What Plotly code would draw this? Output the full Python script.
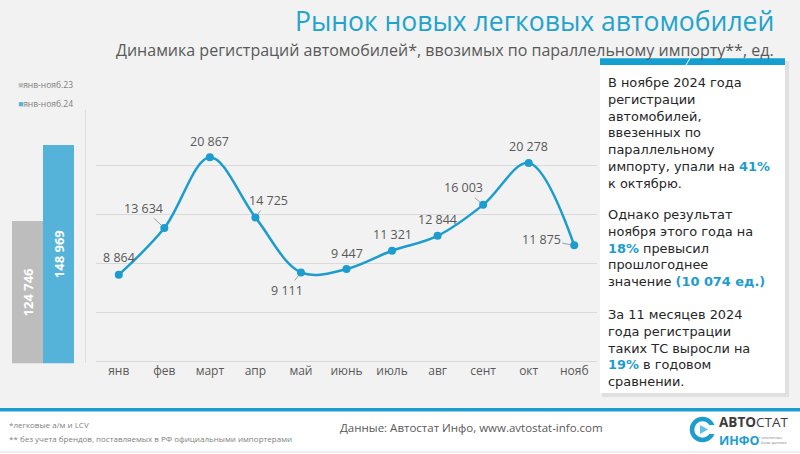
import plotly.graph_objects as go

W, H = 800, 454

months = ['янв', 'фев', 'март', 'апр', 'май', 'июнь', 'июль', 'авг', 'сент', 'окт', 'нояб']
registrations = [8864, 13634, 20867, 14725, 9111, 9447, 11321, 12844, 16003, 20278, 11875]

ytd_periods = ['янв-нояб.23', 'янв-нояб.24']
ytd_values = [124746, 148969]
ytd_axis_min = 79600

BLUE = '#1c9ccf'
BAR_BLUE = '#55b3da'
BAR_GRAY = '#bdbdbd'
TXT = '#595959'
FONT = 'Open Sans'

# label placement per month: (dx px, dy px, leader line)
label_pos = [(0, -17, False), (-21, -20, True), (0, -16, False), (13, -17, True),
             (-14, 18, True), (0, -16, False), (0, -16, False), (0, -16, False),
             (-20, -17, True), (0, -16, False), (-33, -6, True)]


def fx(px):
    return px / W


def fy(py):
    return 1 - py / H


def fmt(v):
    return f'{v:,}'.replace(',', ' ')


fig = go.Figure()

fig.add_trace(go.Scatter(
    x=months, y=registrations, mode='lines+markers',
    line=dict(color=BLUE, width=2.5, shape='spline', smoothing=1.0),
    marker=dict(color=BLUE, size=8),
    hoverinfo='skip', showlegend=False))

fig.add_trace(go.Bar(
    x=ytd_periods, y=[v - ytd_axis_min for v in ytd_values], base=ytd_axis_min,
    xaxis='x2', yaxis='y2', width=1,
    marker=dict(color=[BAR_GRAY, BAR_BLUE], line=dict(width=0)),
    text=[fmt(v) for v in ytd_values], textangle=-90,
    textposition='inside', insidetextanchor='middle',
    textfont=dict(color='white', size=13, family=FONT, weight='bold'),
    hoverinfo='skip', showlegend=False))

annotations = []
for m, v, (dx, dy, leader) in zip(months, registrations, label_pos):
    if leader:
        annotations.append(dict(x=m, y=v, xref='x', yref='y', text=fmt(v),
                                showarrow=True, arrowhead=0, arrowwidth=0.8,
                                arrowcolor='#8c8c8c', ax=dx, ay=dy, standoff=4,
                                font=dict(size=12.5, color=TXT, family=FONT)))
    else:
        annotations.append(dict(x=m, y=v, xref='x', yref='y', text=fmt(v),
                                showarrow=False, xshift=dx, yshift=-dy,
                                font=dict(size=12.5, color=TXT, family=FONT)))


def note(x, y, text, size, color, anchor='left', family=FONT):
    annotations.append(dict(x=fx(x), y=fy(y), xref='paper', yref='paper',
                            xanchor=anchor, yanchor='middle', align='left',
                            showarrow=False, borderpad=0,
                            text=text, font=dict(size=size, color=color, family=family)))


# titles
note(775, 21, 'Рынок новых легковых автомобилей', 26.5, '#22a3cc', 'right')
note(775, 50, 'Динамика регистраций автомобилей*, ввозимых по параллельному импорту**, ед.',
     16, '#595959', 'right')

# small legend for bars
note(17, 84, f'<span style="color:{BAR_GRAY}">■</span>{ytd_periods[0]}', 8.5, '#7f7f7f')
note(17, 103, f'<span style="color:{BAR_BLUE}">■</span>{ytd_periods[1]}', 8.5, '#7f7f7f')

# comment box
hl = f'color:{BLUE}'
paragraphs = [
    (132.5, ['В ноябре 2024 года', 'регистрации', 'автомобилей,', 'ввезенных по',
             'параллельному', f'импорту, упали на <b><span style="{hl}">41%</span></b>',
             'к октябрю.']),
    (248.3, ['Однако результат', 'ноября этого года на',
             f'<b><span style="{hl}">18%</span></b> превысил', 'прошлогоднее',
             f'значение <b><span style="{hl}">(10 074 ед.)</span></b>']),
    (348.3, ['За 11 месяцев 2024', 'года регистрации', 'таких ТС выросли на',
             f'<b><span style="{hl}">19%</span></b> в годовом', 'сравнении.']),
]
for yc, lines in paragraphs:
    note(607, yc, '<br>'.join(lines), 12.9, '#262626', family='DejaVu Sans')

# footer
note(8, 424, '*легковые а/м и LCV', 8, '#7f7f7f')
note(8, 438.5, '** без учета брендов, поставляемых в РФ официальными импортерами', 8, '#7f7f7f')
note(471, 427, 'Данные: Автостат Инфо, www.avtostat-info.com', 11.5, '#595959', 'center')
note(718, 421.5, '<b>АВТО</b>СТАТ', 13.5, '#3c3c3c')
note(718, 440, '<b>ИНФО</b>', 12.5, BLUE)
note(758, 439.5, '• аналитика<br>  базы данных', 4, '#7f7f7f')

shapes = [
    # backgrounds
    dict(type='rect', xref='paper', yref='paper', x0=0, x1=1, y0=fy(408), y1=1,
         fillcolor='#f2f2f2', line=dict(width=0), layer='below'),
    dict(type='rect', xref='paper', yref='paper', x0=0, x1=1, y0=fy(411.5), y1=fy(408),
         fillcolor=BLUE, line=dict(width=0), layer='below'),
    dict(type='line', xref='paper', yref='paper', x0=0, x1=1, y0=fy(452), y1=fy(452),
         line=dict(color='#dcdcdc', width=1), layer='below'),
    # separator left of line chart
    dict(type='line', xref='paper', yref='paper', x0=fx(85.5), x1=fx(85.5), y0=fy(363), y1=fy(110),
         line=dict(color='#dcdcdc', width=1), layer='below'),
    # comment box with shadow
    dict(type='rect', xref='paper', yref='paper', x0=fx(602), x1=fx(789), y0=fy(397), y1=fy(61),
         fillcolor='rgba(0,0,0,0.07)', line=dict(width=0)),
    dict(type='rect', xref='paper', yref='paper', x0=fx(600), x1=fx(785), y0=fy(393), y1=fy(65),
         fillcolor='white', line=dict(width=0)),
    dict(type='rect', xref='paper', yref='paper', x0=fx(600), x1=fx(785), y0=fy(65), y1=fy(58.3),
         fillcolor='#139fcf', line=dict(width=0)),
    dict(type='line', xref='paper', yref='paper', x0=fx(686), x1=fx(690), y0=fy(65), y1=fy(58.3),
         line=dict(color='white', width=1)),
    # logo
    dict(type='circle', xref='paper', yref='paper', x0=fx(692), x1=fx(713), y0=fy(440), y1=fy(419),
         line=dict(color=BLUE, width=4.5), fillcolor='rgba(0,0,0,0)'),
    dict(type='rect', xref='paper', yref='paper', x0=fx(706), x1=fx(716), y0=fy(434), y1=fy(425),
         fillcolor='white', line=dict(width=0)),
    dict(type='path', xref='paper', yref='paper',
         path=f'M {fx(700)} {fy(425)} L {fx(708)} {fy(429.5)} L {fx(700)} {fy(434)} Z',
         fillcolor='#5cc3e6', line=dict(width=0)),
]

fig.update_layout(
    width=W, height=H,
    margin=dict(l=0, r=0, t=0, b=0),
    paper_bgcolor='white', plot_bgcolor='rgba(0,0,0,0)',
    font=dict(family=FONT, color=TXT),
    bargap=0,
    xaxis=dict(domain=[fx(96), fx(597)], type='category', range=[-0.5, 10.5],
               showgrid=False, showline=False, ticks='',
               tickfont=dict(size=12, color=TXT), fixedrange=True),
    yaxis=dict(domain=[fy(361.7), fy(116.7)], range=[0, 25000], dtick=5000,
               showgrid=True, gridcolor='#d9d9d9', gridwidth=1,
               zeroline=True, zerolinecolor='#d9d9d9', zerolinewidth=1,
               showticklabels=False, fixedrange=True),
    xaxis2=dict(domain=[fx(12), fx(74)], anchor='y2', type='category',
                showticklabels=False, showgrid=False, showline=False, ticks=''),
    yaxis2=dict(domain=[fy(363.3), fy(116.7)], anchor='x2',
                range=[ytd_axis_min, 157700], showgrid=False, zeroline=False,
                showticklabels=False, showline=False),
    annotations=annotations,
    shapes=shapes,
)

# the page's default body margin would shift the whole figure by 8px
fig.write_html('out.html', config={'displayModeBar': False},
               post_script="document.body.style.margin='0';")
